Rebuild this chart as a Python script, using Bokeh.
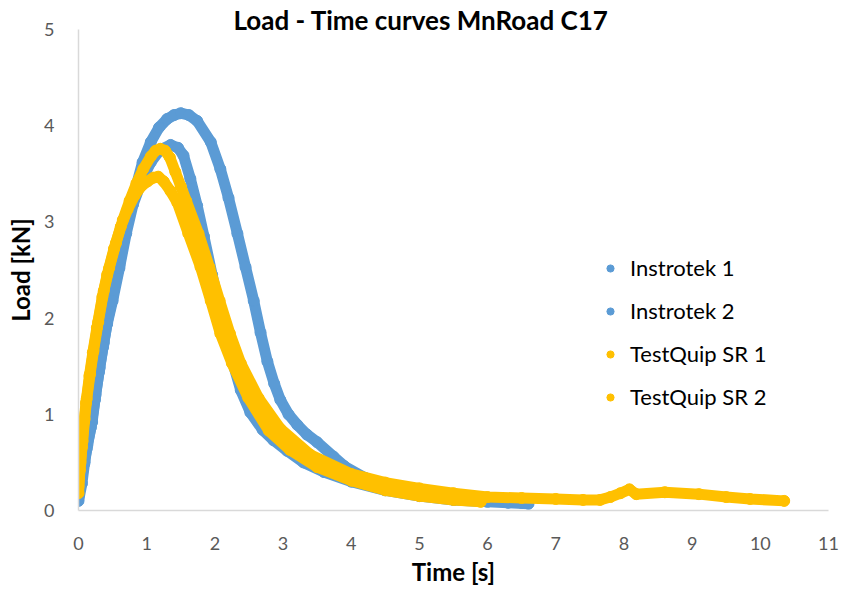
from bokeh.plotting import figure
from bokeh.models import Range1d, FixedTicker
from bokeh.embed import file_html
from bokeh.resources import INLINE

# Load [kN] against time [s] for the four MnRoad C17 test records
inst1_t = [0.00, 0.05, 0.09, 0.13, 0.20, 0.25, 0.31, 0.37, 0.42, 0.50, 0.60, 0.72, 0.80, 0.94,
           1.06, 1.18, 1.30, 1.40, 1.50, 1.62, 1.74, 1.94, 2.08, 2.20, 2.33, 2.45, 2.57, 2.67,
           2.77, 2.87, 2.96, 3.08, 3.21, 3.35, 3.50, 3.74, 3.90, 4.20, 4.50, 5.00, 5.50, 6.00,
           6.50]
inst1_load = [0.10, 0.28, 0.50, 0.68, 0.92, 1.20, 1.48, 1.74, 1.95, 2.22, 2.55, 3.00, 3.25, 3.62,
              3.83, 3.98, 4.07, 4.11, 4.13, 4.11, 4.05, 3.83, 3.55, 3.25, 2.88, 2.53, 2.18, 1.85,
              1.55, 1.32, 1.15, 1.00, 0.89, 0.79, 0.71, 0.56, 0.46, 0.34, 0.27, 0.19, 0.13, 0.10,
              0.08]

inst2_t = [0.00, 0.04, 0.08, 0.12, 0.18, 0.24, 0.30, 0.36, 0.42, 0.50, 0.60, 0.70, 0.80, 0.94,
           1.06, 1.20, 1.35, 1.46, 1.54, 1.64, 1.74, 1.84, 1.96, 2.08, 2.23, 2.38, 2.52, 2.70,
           2.86, 3.06, 3.30, 3.60, 4.00, 4.50, 5.00, 5.50, 6.00, 6.30, 6.60]
inst2_load = [0.14, 0.30, 0.48, 0.64, 0.86, 1.15, 1.44, 1.70, 1.94, 2.18, 2.52, 2.88, 3.18, 3.45,
              3.62, 3.75, 3.80, 3.77, 3.69, 3.45, 3.17, 2.85, 2.45, 2.08, 1.62, 1.25, 1.02, 0.84,
              0.73, 0.62, 0.50, 0.40, 0.30, 0.21, 0.15, 0.11, 0.09, 0.08, 0.07]

sr1_t = [0.00, 0.03, 0.06, 0.09, 0.12, 0.17, 0.22, 0.29, 0.37, 0.45, 0.55, 0.65, 0.75, 0.85,
         0.95, 1.06, 1.13, 1.20, 1.27, 1.34, 1.42, 1.50, 1.58, 1.76, 1.92, 2.07, 2.22, 2.38,
         2.64, 2.96, 3.40, 4.00, 4.50, 5.00, 5.50, 6.00, 6.50, 7.00, 7.40, 7.65, 7.80, 7.95,
         8.08, 8.18, 8.60, 9.10, 9.50, 9.85, 10.35]
sr1_load = [0.25, 0.50, 0.72, 0.95, 1.16, 1.42, 1.66, 1.96, 2.28, 2.52, 2.78, 3.02, 3.22, 3.40,
            3.55, 3.68, 3.74, 3.76, 3.74, 3.67, 3.52, 3.37, 3.22, 2.88, 2.53, 2.18, 1.84, 1.53,
            1.17, 0.85, 0.58, 0.38, 0.29, 0.23, 0.18, 0.14, 0.13, 0.12, 0.11, 0.11, 0.14, 0.18,
            0.22, 0.17, 0.19, 0.17, 0.14, 0.12, 0.10]

sr2_t = [0.00, 0.02, 0.05, 0.08, 0.11, 0.16, 0.21, 0.27, 0.35, 0.42, 0.52, 0.62, 0.72, 0.82,
         0.92, 1.01, 1.10, 1.17, 1.25, 1.35, 1.45, 1.61, 1.79, 1.94, 2.08, 2.25, 2.49, 2.79,
         3.10, 3.50, 4.00, 4.50, 5.00, 5.50, 5.90]
sr2_load = [0.18, 0.42, 0.66, 0.92, 1.12, 1.40, 1.64, 1.90, 2.22, 2.45, 2.72, 2.95, 3.13, 3.27,
            3.37, 3.42, 3.46, 3.47, 3.42, 3.32, 3.20, 2.88, 2.53, 2.18, 1.84, 1.53, 1.17, 0.83,
            0.63, 0.45, 0.31, 0.21, 0.15, 0.11, 0.09]

series = [
    ("Instrotek 1", inst1_t, inst1_load, "#5B9BD5"),
    ("Instrotek 2", inst2_t, inst2_load, "#5B9BD5"),
    ("TestQuip SR 1", sr1_t, sr1_load, "#FFC000"),
    ("TestQuip SR 2", sr2_t, sr2_load, "#FFC000"),
]

x_ticks = list(range(0, 12))
y_ticks = list(range(0, 6))

FONT = "Lato"

p = figure(width=852, height=590, output_backend="svg", toolbar_location=None,
           x_range=Range1d(0, 11), y_range=Range1d(0, 5),
           min_border_left=78, min_border_right=24, min_border_top=29, min_border_bottom=80)
p.background_fill_color = "white"
p.border_fill_color = "white"
p.outline_line_color = None
p.xgrid.visible = False
p.ygrid.visible = False

p.title.text = "Load - Time curves MnRoad C17"
p.title.align = "left"
p.title.offset = 155
p.title.standoff = -12
p.title.text_font = FONT
p.title.text_font_size = "26px"
p.title.text_font_style = "bold"
p.title.text_color = "#000000"

for ax, ticks, standoff in ((p.xaxis, x_ticks, 26), (p.yaxis, y_ticks, 24)):
    ax.ticker = FixedTicker(ticks=ticks)
    ax.axis_line_color = "#D9D9D9"
    ax.axis_line_width = 1.5
    ax.major_tick_line_color = None
    ax.minor_tick_line_color = None
    ax.major_tick_in = 0
    ax.major_tick_out = 0
    ax.major_label_standoff = standoff
    ax.major_label_text_font = FONT
    ax.major_label_text_font_size = "18px"
    ax.major_label_text_color = "#595959"
    ax.axis_label_text_font = FONT
    ax.axis_label_text_font_size = "24px"
    ax.axis_label_text_font_style = "bold"
    ax.axis_label_text_color = "#000000"

p.xaxis.axis_label = "Time [s]"
p.yaxis.axis_label = "Load [kN]"
p.xaxis.axis_label_standoff = 4
p.yaxis.axis_label_standoff = 6

for name, t, load, color in series:
    # dense sample points are drawn as a continuous dotted band
    p.line(t, load, line_width=11, line_color=color, line_cap="round", line_join="round")
    p.scatter(t, load, size=11, marker="circle", fill_color=color, line_color=color,
              legend_label=name)

lg = p.legend[0]
lg.location = (523, 100)
lg.padding = 0
lg.margin = 0
lg.border_line_color = None
lg.background_fill_alpha = 0
lg.glyph_width = 18
lg.glyph_height = 18
lg.label_height = 27
lg.spacing = 16
lg.label_standoff = 11
lg.label_text_font = FONT
lg.label_text_font_size = "22px"
lg.label_text_color = "#000000"

open("out.html", "w").write(file_html(p, INLINE))
